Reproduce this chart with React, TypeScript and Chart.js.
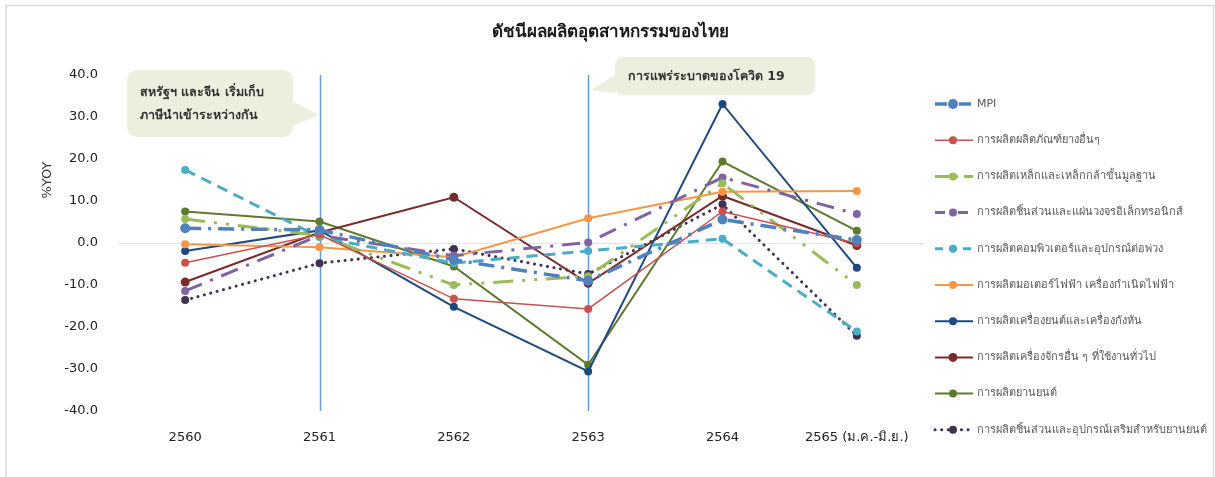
import React, { useEffect, useRef } from "react";
import { Chart, registerables } from "chart.js";

Chart.register(...registerables);

const categories = ["2560", "2561", "2562", "2563", "2564", "2565 (ม.ค.-มิ.ย.)"];
const yTicks = [-40, -30, -20, -10, 0, 10, 20, 30, 40];

const seriesNames = [
  "MPI",
  "การผลิตผลิตภัณฑ์ยางอื่นๆ",
  "การผลิตเหล็กและเหล็กกล้าขั้นมูลฐาน",
  "การผลิตชิ้นส่วนและแผ่นวงจรอิเล็กทรอนิกส์",
  "การผลิตคอมพิวเตอร์และอุปกรณ์ต่อพ่วง",
  "การผลิตมอเตอร์ไฟฟ้า เครื่องกำเนิดไฟฟ้า",
  "การผลิตเครื่องยนต์และเครื่องกังหัน",
  "การผลิตเครื่องจักรอื่น ๆ ที่ใช้งานทั่วไป",
  "การผลิตยานยนต์",
  "การผลิตชิ้นส่วนและอุปกรณ์เสริมสำหรับยานยนต์",
];

const mpi = [3.5, 3.1, -4.0, -9.0, 5.6, 0.7];
const rubber = [-4.7, 2.0, -13.3, -15.7, 7.5, -0.1];
const steel = [5.7, 1.8, -10.0, -7.9, 14.2, -10.0];
const electronics = [-11.4, 1.8, -3.0, 0.1, 15.6, 6.9];
const computers = [17.4, 1.4, -4.8, -1.9, 1.0, -21.1];
const motors = [-0.3, -1.0, -3.4, 5.9, 12.2, 12.4];
const engines = [-1.9, 3.0, -15.2, -30.6, 33.1, -5.9];
const machinery = [-9.3, 2.5, 10.9, -9.6, 11.2, -0.6];
const autos = [7.5, 5.1, -5.6, -29.0, 19.4, 2.9];
const autoParts = [-13.6, -4.8, -1.4, -7.4, 9.2, -22.1];

const seriesValues = [mpi, rubber, steel, electronics, computers, motors, engines, machinery, autos, autoParts];

const title = "ดัชนีผลผลิตอุตสาหกรรมของไทย";
const yAxisTitle = "%YOY";
const note1 = ["สหรัฐฯ และจีน เริ่มเก็บ", "ภาษีนำเข้าระหว่างกัน"];
const note2 = ["การแพร่ระบาดของโควิด 19"];
const markedCategories = [1, 3];

const styles = [
  { color: "#4F81BD", width: 3.5, dash: [16, 7, 3, 7], radius: 5 },
  { color: "#C8504D", width: 1.5, dash: [], radius: 4 },
  { color: "#9BBB59", width: 3, dash: [20, 9, 3, 9, 3, 9], radius: 4 },
  { color: "#8064A2", width: 3, dash: [18, 9, 3, 9], radius: 4 },
  { color: "#4BACC6", width: 3, dash: [11, 7], radius: 4 },
  { color: "#F79646", width: 2, dash: [], radius: 4 },
  { color: "#1F497D", width: 2, dash: [], radius: 4 },
  { color: "#772C2A", width: 2, dash: [], radius: 4.5 },
  { color: "#5F7A2F", width: 2, dash: [], radius: 4 },
  { color: "#3F3151", width: 3, dash: [0.1, 6.5], radius: 4 },
];

const FONT = "Tahoma, 'DejaVu Sans', 'Noto Sans', sans-serif";

function roundRect(ctx: CanvasRenderingContext2D, x: number, y: number, w: number, h: number, r: number) {
  ctx.beginPath();
  ctx.moveTo(x + r, y);
  ctx.lineTo(x + w - r, y);
  ctx.quadraticCurveTo(x + w, y, x + w, y + r);
  ctx.lineTo(x + w, y + h - r);
  ctx.quadraticCurveTo(x + w, y + h, x + w - r, y + h);
  ctx.lineTo(x + r, y + h);
  ctx.quadraticCurveTo(x, y + h, x, y + h - r);
  ctx.lineTo(x, y + r);
  ctx.quadraticCurveTo(x, y, x + r, y);
  ctx.closePath();
}

const decorPlugin = {
  id: "decor",
  beforeDraw(chart: any) {
    const ctx = chart.ctx as CanvasRenderingContext2D;
    ctx.save();
    ctx.fillStyle = "#ffffff";
    ctx.fillRect(0, 0, chart.width, chart.height);
    ctx.strokeStyle = "#d9d9d9";
    ctx.lineWidth = 1.5;
    ctx.beginPath();
    ctx.moveTo(6, chart.height + 2);
    ctx.lineTo(6, 5.5);
    ctx.lineTo(1213.5, 5.5);
    ctx.lineTo(1213.5, chart.height + 2);
    ctx.stroke();
    ctx.restore();
  },
  beforeDatasetsDraw(chart: any) {
    const ctx = chart.ctx as CanvasRenderingContext2D;
    const area = chart.chartArea;
    const xs = chart.scales.x;
    ctx.save();
    ctx.strokeStyle = "#6A9AD6";
    ctx.lineWidth = 1.5;
    markedCategories.forEach((i) => {
      const px = Math.round(xs.getPixelForValue(i)) + 0.5;
      ctx.beginPath();
      ctx.moveTo(px, area.top);
      ctx.lineTo(px, area.bottom);
      ctx.stroke();
    });
    ctx.restore();
  },
  afterDraw(chart: any) {
    const ctx = chart.ctx as CanvasRenderingContext2D;
    const xs = chart.scales.x;
    ctx.save();
    // title
    ctx.fillStyle = "#1a1a1a";
    ctx.font = `bold 17px ${FONT}`;
    ctx.textAlign = "center";
    ctx.textBaseline = "middle";
    ctx.fillText(title, 610, 33);

    // y axis title
    ctx.save();
    ctx.translate(48, 180);
    ctx.rotate(-Math.PI / 2);
    ctx.font = `13px ${FONT}`;
    ctx.fillStyle = "#333333";
    ctx.fillText(yAxisTitle, 0, 0);
    ctx.restore();

    // callouts
    const fill = "#EBEFDD";
    const x1 = xs.getPixelForValue(markedCategories[0]);
    ctx.fillStyle = fill;
    roundRect(ctx, 127, 70, 166, 67, 12);
    ctx.fill();
    ctx.beginPath();
    ctx.moveTo(292, 101);
    ctx.lineTo(x1 - 1, 115);
    ctx.lineTo(292, 126);
    ctx.closePath();
    ctx.fill();
    ctx.fillStyle = "#333333";
    ctx.font = `bold 12.5px ${FONT}`;
    ctx.textAlign = "left";
    ctx.textBaseline = "middle";
    ctx.fillText(note1[0], 140, 93);
    ctx.fillText(note1[1], 140, 116);

    const x2 = xs.getPixelForValue(markedCategories[1]);
    ctx.fillStyle = fill;
    roundRect(ctx, 615, 57, 200, 38, 9);
    ctx.fill();
    ctx.beginPath();
    ctx.moveTo(616, 74);
    ctx.lineTo(x2 + 3, 90);
    ctx.lineTo(616, 93);
    ctx.closePath();
    ctx.fill();
    ctx.fillStyle = "#333333";
    ctx.fillText(note2[0], 628, 77);

    // legend
    const lx = 935;
    const ly0 = 104;
    const step = 36.2;
    chart.data.datasets.forEach((ds: any, i: number) => {
      const st = styles[i];
      const y = ly0 + i * step;
      ctx.save();
      ctx.strokeStyle = st.color;
      ctx.lineWidth = st.width;
      ctx.lineCap = i === 9 ? "round" : "butt";
      ctx.setLineDash(i === 0 ? [12, 5, 2, 5] : i === 2 ? [14, 6, 3, 6] : i === 3 ? [10, 5, 3, 5] : i === 4 ? [8, 6] : st.dash);
      ctx.beginPath();
      ctx.moveTo(lx, y);
      ctx.lineTo(lx + 38, y);
      ctx.stroke();
      ctx.setLineDash([]);
      ctx.fillStyle = st.color;
      ctx.beginPath();
      ctx.arc(lx + 18, y, st.radius, 0, Math.PI * 2);
      ctx.fill();
      ctx.restore();
      ctx.fillStyle = "#595959";
      ctx.font = `11px ${FONT}`;
      ctx.textAlign = "left";
      ctx.textBaseline = "middle";
      ctx.fillText(ds.label, lx + 42, y);
    });
    ctx.restore();
  },
};

export default function App() {
  const ref = useRef<HTMLCanvasElement | null>(null);
  useEffect(() => {
    if (!ref.current) return;
    const chart = new Chart(ref.current, {
      type: "line",
      data: {
        labels: categories,
        datasets: seriesNames.map((name, i) => ({
          label: name,
          data: seriesValues[i],
          borderColor: styles[i].color,
          backgroundColor: styles[i].color,
          borderWidth: styles[i].width,
          borderDash: styles[i].dash,
          borderCapStyle: i === 9 ? "round" : "butt",
          pointRadius: styles[i].radius,
          pointBackgroundColor: styles[i].color,
          pointBorderColor: styles[i].color,
          pointBorderWidth: 0,
          tension: 0,
          fill: false,
        })),
      },
      plugins: [decorPlugin],
      options: {
        responsive: false,
        animation: false,
        layout: { padding: { left: 0, right: 291, top: 75, bottom: 26 } },
        plugins: {
          legend: { display: false },
          tooltip: { enabled: false },
          title: { display: false },
        },
        scales: {
          x: {
            type: "category",
            offset: true,
            grid: { display: false, drawTicks: false },
            border: { display: false },
            ticks: {
              padding: 19,
              color: "#222222",
              font: { family: FONT, size: 13 },
              maxRotation: 0,
              autoSkip: false,
            },
            afterFit: (s: any) => {
              s.height = 40;
            },
          },
          y: {
            min: -40,
            max: 40,
            afterBuildTicks: (s: any) => {
              s.ticks = yTicks.map((v) => ({ value: v }));
            },
            grid: {
              drawTicks: false,
              color: (c: any) => (c.tick && c.tick.value === 0 ? "#e3e3e3" : "rgba(0,0,0,0)"),
              lineWidth: 1,
            },
            border: { display: false },
            ticks: {
              padding: 20,
              color: "#222222",
              font: { family: FONT, size: 13 },
              callback: (v: any) => Number(v).toFixed(1),
            },
            afterFit: (s: any) => {
              s.width = 118;
            },
          },
        },
      },
    });
    return () => chart.destroy();
  }, []);
  return (
    <div style={{ position: "absolute", left: 0, top: 0, width: 1215, height: 477, background: "#fff" }}>
      <canvas ref={ref} width={1215} height={477} style={{ display: "block" }} />
    </div>
  );
}
